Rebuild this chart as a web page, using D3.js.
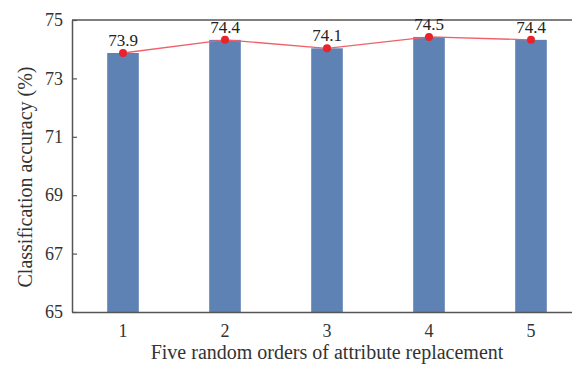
<!DOCTYPE html>
<html><head><meta charset="utf-8">
<script src="https://cdn.jsdelivr.net/npm/d3@7"></script>
<style>body{margin:0;background:#fff}svg{display:block}svg text{font-family:'Liberation Serif','Times New Roman',serif}</style>
</head><body>
<script>
const categories = ["1","2","3","4","5"];
const values = [73.87, 74.32, 74.03, 74.42, 74.32];
const labels = ["73.9","74.4","74.1","74.5","74.4"];
const yTicks = [65,67,69,71,73,75];

const W=572,H=365;
const m={left:72,top:20,bottom:312,right:582};
const svg=d3.select("body").append("svg").attr("width",W).attr("height",H);
const x=d3.scaleBand().domain(categories).range([m.left,m.right]).paddingInner(0.69).paddingOuter(0.345);
const y=d3.scaleLinear().domain([65,75]).range([m.bottom,m.top]);
const font="'Liberation Serif','Times New Roman',serif";
const axisCol="#555";

svg.selectAll("rect.bar").data(values).join("rect").attr("class","bar")
 .attr("x",(d,i)=>x(categories[i])).attr("width",x.bandwidth())
 .attr("y",d=>y(d)).attr("height",d=>y(65)-y(d)).attr("fill","#5f82b5");

// top border
svg.append("line").attr("x1",m.left).attr("x2",W).attr("y1",m.top).attr("y2",m.top).attr("stroke",axisCol).attr("stroke-width",1.5);

const ya=svg.append("g").attr("transform",`translate(${m.left},0)`)
 .call(d3.axisLeft(y).tickValues(yTicks).tickSizeInner(-5).tickSizeOuter(0).tickPadding(9));
ya.attr("font-family",null);
ya.select(".domain").attr("stroke",axisCol).attr("stroke-width",1.5);
ya.selectAll(".tick line").attr("stroke",axisCol).attr("stroke-width",1.2);
ya.selectAll("text").style("font-family",font).style("font-size","18px").attr("fill","#333");

const xa=svg.append("g").attr("transform",`translate(0,${m.bottom})`)
 .call(d3.axisBottom(x).tickSize(0).tickPadding(12));
xa.attr("font-family",null);
xa.select(".domain").attr("stroke",axisCol).attr("stroke-width",1.5);
xa.selectAll("text").style("font-family",font).style("font-size","18px").attr("fill","#333");

const line=d3.line().x((d,i)=>x(categories[i])+x.bandwidth()/2).y(d=>y(d));
svg.append("path").datum(values).attr("d",line).attr("fill","none").attr("stroke","#f0606a").attr("stroke-width",1.3);
svg.selectAll("circle.pt").data(values).join("circle").attr("class","pt")
 .attr("cx",(d,i)=>x(categories[i])+x.bandwidth()/2).attr("cy",d=>y(d)).attr("r",4).attr("fill","#e8232a");

svg.selectAll("text.lbl").data(values).join("text").attr("class","lbl")
 .attr("x",(d,i)=>x(categories[i])+x.bandwidth()/2).attr("y",d=>y(d)-7)
 .attr("text-anchor","middle").style("font-family",font).style("font-size","17px").attr("fill","#222")
 .text((d,i)=>labels[i]);

svg.append("text").attr("x",327).attr("y",359).attr("text-anchor","middle")
 .style("font-family",font).style("font-size","20px").attr("fill","#333")
 .text("Five random orders of attribute replacement");
svg.append("text").attr("transform",`translate(32,${177}) rotate(-90)`)
 .attr("text-anchor","middle").style("font-family",font).style("font-size","20px").attr("fill","#333")
 .text("Classification accuracy (%)");
</script>
</body></html>
